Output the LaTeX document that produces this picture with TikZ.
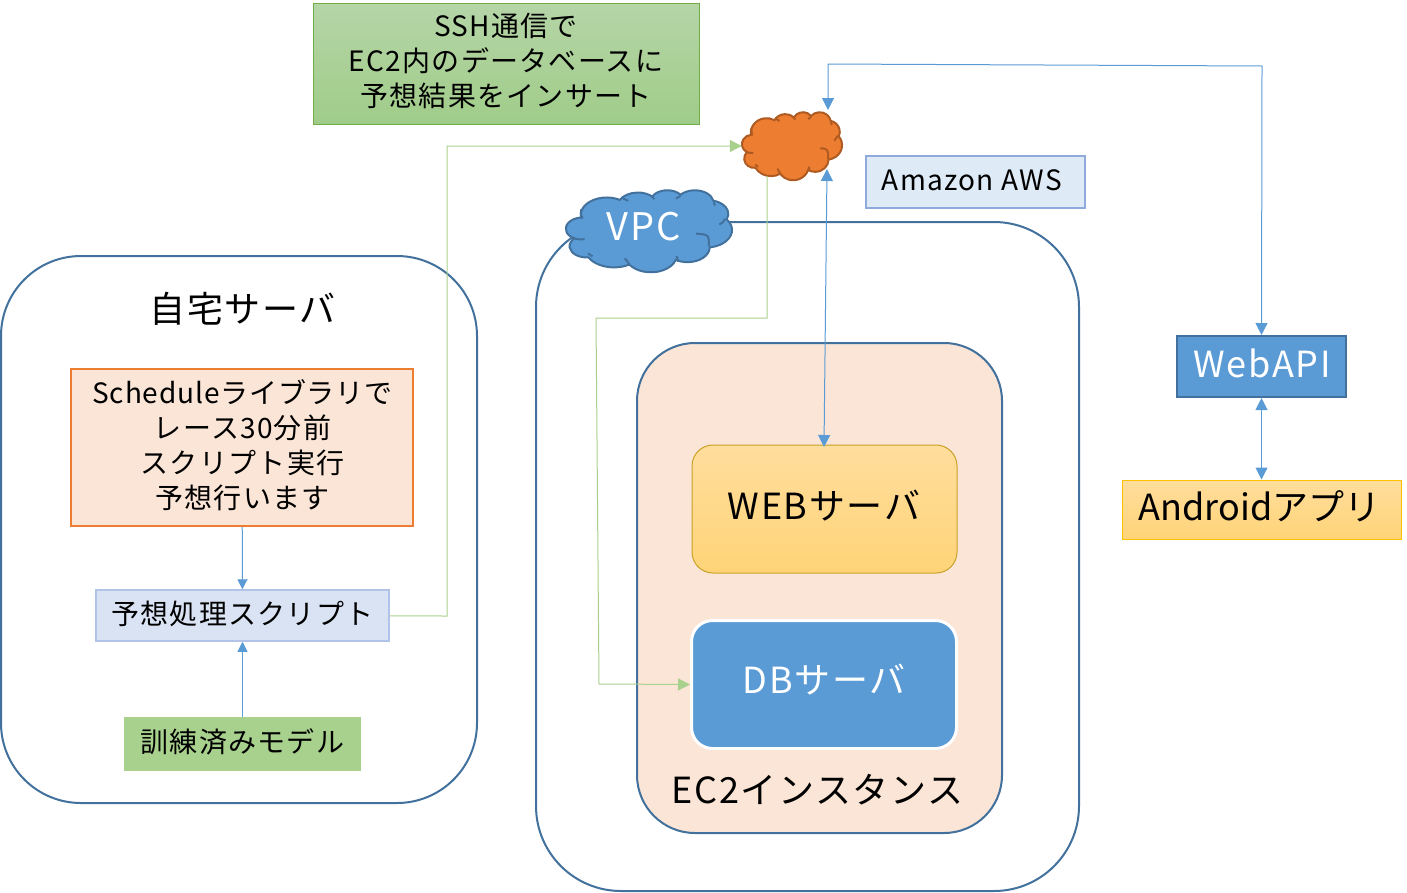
\documentclass[tikz,border=0pt]{standalone}
\usepackage{fontspec}
\setmainfont[LetterSpace=4.5]{Noto Sans CJK JP}
\usetikzlibrary{arrows.meta}
\definecolor{frameblue}{HTML}{41719C}
\definecolor{linkblue}{HTML}{5B9BD5}
\definecolor{linkgreen}{HTML}{A9D18E}
\definecolor{paleblue}{HTML}{DAE3F3}
\definecolor{skyblue}{HTML}{DEEBF7}
\definecolor{paleorange}{HTML}{FBE5D6}
\definecolor{hotorange}{HTML}{ED7D31}
\definecolor{darkorange}{HTML}{AE5A21}
\definecolor{gold}{HTML}{FFC000}
\definecolor{darkgold}{HTML}{C9A227}
\definecolor{goldtop}{HTML}{FFDD9C}
\definecolor{goldlow}{HTML}{FFD478}
\definecolor{leaf}{HTML}{70AD47}
\definecolor{leaftop}{HTML}{B5D5A7}
\definecolor{leaflow}{HTML}{A0CC89}
\definecolor{softblue}{HTML}{8FAADC}
\tikzset{
  panel/.style={draw=frameblue, line width=2pt, fill=white},
  boxed/.style={draw, line width=1pt, inner sep=0pt, align=center, text=black},
  goldbox/.style={boxed, draw=gold, top color=goldtop, bottom color=goldlow},
  bluelink/.style={draw=linkblue, line width=1pt, -{Triangle[length=10pt,width=10pt]}},
  greenlink/.style={draw=linkgreen, line width=1pt, -{Triangle[length=12pt,width=12pt]}},
  bothlink/.style={draw=linkblue, line width=1pt, {Triangle[length=12pt,width=12pt]}-{Triangle[length=12pt,width=12pt]}},
}
\newcommand{\sz}[1]{\fontsize{#1}{#1}\selectfont}
% angle on the ellipse -> parameter of the arc
\newcommand{\ellpar}[3]{atan2(#1*sin(#3),#2*cos(#3))}
% x, y (left top), width, height, fill, line
\newcommand{\cloudshape}[6]{
  \begin{scope}[shift={(#1,#2)}, x=#3pt/432, y=-#4pt/432, line width=2pt, draw=#6]
    \filldraw [fill=#5] (39,143.7)
      foreach \rx/\ry/\st/\sw in {67.53/91.90/-190.487/123.781, 53.33/72.67/-144.102/89.945,
        43.65/59.45/-145.808/99.723, 48.57/65.95/-130.986/117.242, 53.33/72.73/-78.709/109.027,
        67.75/92.20/-46.267/130.269, 57.85/78.67/0.625/114.033, 67.52/92.15/22.452/115.173,
        77.20/105.43/66.243/75.711, 43.60/59.18/-274.942/146.736, 43.45/59.45/-246.829/152.519}
      { arc [x radius=\rx, y radius=\ry, start angle={\ellpar{\rx}{\ry}{\st}},
             delta angle={mod(\ellpar{\rx}{\ry}{\st+\sw}-\ellpar{\rx}{\ry}{\st}+720,360)}] }
      -- cycle;
    \foreach \ax/\ay/\cx/\cy/\bx/\by in {48.6/259/30/261/14.5/248.6, 69/349/62/346/57/334,
        165/391/158/377/153/360, 288/347/292/360/292/377, 338/230/372/235/372/297,
        399/182/408/172/414/151, 43/151/38/125/40/100, 149/45/156/50/162/57,
        230/48/227/40/222/31, 286/45/290/37/298/31, 384/65/387/73/388/82}
      \draw (\ax,\ay) .. controls (\cx,\cy) .. (\bx,\by);
  \end{scope}
}
\begin{document}
\begin{tikzpicture}[x=1pt,y=-1pt]
  \useasboundingbox (0,0) rectangle (1407,892);
  % frames
  \node [panel, rounded corners=80pt, minimum width=476pt, minimum height=547pt] (home) at (239,529.5) {};
  \node [panel, rounded corners=85pt, minimum width=543pt, minimum height=669pt] (vpcframe) at (807.5,556.5) {};
  \node [boxed, draw=frameblue, fill=paleorange, line width=2pt, rounded corners=58pt, minimum width=365pt, minimum height=490pt] (ec2) at (819.5,588) {};
  % home server
  \node [font=\sz{36}] (hometitle) at (242.5,309) {自宅サーバ};
  \node [boxed, draw=hotorange, fill=paleorange, line width=2pt, minimum width=342pt, minimum height=157pt] (schedule) at (242,447.5) {};
  \node [font=\sz{28}, align=center] (scheduletext) at (242.5,445.5) {{\addfontfeature{LetterSpace=3}Scheduleライブラリで}\\[7pt]レース30分前\\[7pt]スクリプト実行\\[7pt]予想行います};
  \node [boxed, draw=softblue!70, fill=paleblue, line width=1.5pt, minimum width=293pt, minimum height=51pt, font=\sz{28}] (script) at (242.5,615.5) {};
  \node [font=\sz{28}] (scripttext) at (242.5,614) {予想処理スクリプト};
  \node [boxed, draw=linkgreen, fill=linkgreen, minimum width=236pt, minimum height=53pt] (model) at (242.5,743.5) {};
  \node [font=\sz{28}] (modeltext) at (242.5,742) {訓練済みモデル};
  % aws side
  \node [boxed, draw=leaf, top color=leaftop, bottom color=leaflow, line width=1pt, minimum width=386pt, minimum height=121pt] (sshnote) at (506,63.5) {};
  \node [font=\sz{28}, align=center] (sshtext) at (506,61) {SSH通信で\\[7pt]EC2内のデータベースに\\[7pt]予想結果をインサート};
  \cloudshape{742}{112}{100}{68}{hotorange}{darkorange}
  \node [minimum width=100pt, minimum height=68pt, inner sep=0pt] (awscloud) at (792,146) {};
  \cloudshape{566}{190}{166}{82}{linkblue}{frameblue}
  \node [text=white, font=\sz{38}] (vpc) at (643.5,227) {VPC};
  \node [boxed, draw=softblue, fill=skyblue, line width=1.5pt, minimum width=219pt, minimum height=52pt] (aws) at (975.5,182) {};
  \node [font=\sz{28}] (awstext) at (972,180) {Amazon AWS};
  \node [goldbox, draw=darkgold, minimum width=265pt, minimum height=128pt, rounded corners=21pt] (web) at (824.5,509) {};
  \node [font=\sz{36}] (webtext) at (824,506) {WEBサーバ};
  \node [boxed, draw=white, fill=linkblue, line width=3pt, minimum width=265pt, minimum height=128pt, rounded corners=21pt] (db) at (824,684.5) {};
  \node [text=white, font=\sz{36}] (dbtext) at (824,680) {DBサーバ};
  \node [font=\sz{36}] (ec2title) at (817.5,790) {EC2インスタンス};
  % clients
  \node [boxed, draw=frameblue, fill=linkblue, line width=2pt, minimum width=169pt, minimum height=61pt] (webapi) at (1261.5,366.5) {};
  \node [text=white, font=\sz{36}] (webapitext) at (1262,363) {WebAPI};
  \node [goldbox, minimum width=279pt, minimum height=59pt] (android) at (1261.5,509.5) {};
  \node [font=\sz{36}] (androidtext) at (1259.5,506) {\addfontfeature{LetterSpace=0}Androidアプリ};
  % bends
  \coordinate (bendhome) at (447,616);
  \coordinate (bendsshtop) at (447,146);
  \coordinate (cloudout) at (767,176);
  \coordinate (bendvpca) at (767,318);
  \coordinate (bendvpcb) at (596,318);
  \coordinate (bendvpcc) at (599,684);
  \coordinate (cloudtop) at (828,110);
  \coordinate (cloudlow) at (827,169);
  \coordinate (webtop) at (824,447);
  \coordinate (bendapia) at (828,64);
  \coordinate (bendapib) at (1262,66);
  % connectors
  \draw [bluelink] (schedule) -- (script);
  \draw [bluelink] (model) -- (script);
  \draw [greenlink] (script) -- (bendhome) -- (bendsshtop) -- (awscloud.west);
  \draw [greenlink] (cloudout) -- (bendvpca) -- (bendvpcb) -- (bendvpcc) -- (db.west);
  \draw [bothlink] (cloudlow) -- (webtop);
  \draw [bothlink] (cloudtop) -- (bendapia) -- (bendapib) -- (webapi.north);
  \draw [bothlink] (webapi) -- (android);
\end{tikzpicture}
\end{document}
